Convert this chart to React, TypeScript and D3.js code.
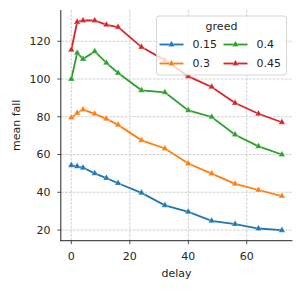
import * as d3 from 'd3'
import { useMemo } from 'react'

const WIDTH = 302 as const
const HEIGHT = 292 as const

const DELAYS = [0, 2, 4, 8, 12, 16, 24, 32, 40, 48, 56, 64, 72]
const GREEDS = ['0.15', '0.3', '0.4', '0.45']
const COLORS = ['#1f77b4', '#ff7f0e', '#2ca02c', '#d62728']

const FALL_015 = [54.3, 53.7, 53, 50, 47.5, 44.8, 39.7, 33.1, 29.6, 24.9, 23.1, 20.8, 19.9]
const FALL_03 = [79.5, 82, 83.8, 81.5, 78.9, 75.7, 67.5, 63.2, 55.2, 49.9, 44.5, 41.2, 38]
const FALL_04 = [100, 113.8, 110.6, 114.6, 108.5, 103.2, 94, 92.9, 83.4, 79.9, 70.5, 64.3, 60]
const FALL_045 = [115.5, 130.2, 131, 131, 128.7, 127.5, 116.9, 110, 101.4, 95.8, 87.3, 81.6, 77.1]

const X_TICKS = [0, 20, 40, 60]
const Y_TICKS = [20, 40, 60, 80, 100, 120]

const FONT = 'DejaVu Sans, sans-serif'
const FS = 11

export default function App() {
  const chart = useMemo(() => {
    const left = 60.8
    const right = 292.4
    const top = 10
    const bottom = 240.7

    const series = [FALL_015, FALL_03, FALL_04, FALL_045]
    const allValues = series.flat()
    const yMin = d3.min(allValues) ?? 0
    const yMax = d3.max(allValues) ?? 1
    const yPad = (yMax - yMin) * 0.05
    const xPad = ((d3.max(DELAYS) ?? 1) - (d3.min(DELAYS) ?? 0)) * 0.05

    const x = d3
      .scaleLinear()
      .domain([(d3.min(DELAYS) ?? 0) - xPad, (d3.max(DELAYS) ?? 1) + xPad])
      .range([left, right])
    const y = d3
      .scaleLinear()
      .domain([yMin - yPad, yMax + yPad])
      .range([bottom, top])

    const line = d3
      .line<number>()
      .x((_, i) => x(DELAYS[i]))
      .y((d) => y(d))

    const tri = d3.symbol(d3.symbolTriangle, 19)()

    return { left, right, top, bottom, x, y, series, line, tri }
  }, [])

  const { left, right, top, bottom, x, y, series, line, tri } = chart

  // legend box
  const lg = { x: 156.5, y: 16, w: 130, h: 59 }
  const legendItems = GREEDS.map((g, i) => {
    const col = i < 2 ? 0 : 1
    const row = i % 2
    return { g, color: COLORS[i], hx: lg.x + 3 + col * 64, ly: lg.y + 28.5 + row * 19 }
  })

  return (
    <svg
      width={WIDTH}
      height={HEIGHT}
      style={{ position: 'absolute', left: 0, top: 0, background: '#fff' }}
      fontFamily={FONT}
    >
      {/* grid */}
      <g stroke="#b0b0b0" strokeWidth={0.8} strokeDasharray="2.8,1.2" opacity={0.7}>
        {X_TICKS.map((t) => (
          <line key={`gx${t}`} x1={x(t)} x2={x(t)} y1={top} y2={bottom} />
        ))}
        {Y_TICKS.map((t) => (
          <line key={`gy${t}`} x1={left} x2={right} y1={y(t)} y2={y(t)} />
        ))}
      </g>

      {/* series */}
      {series.map((vals, i) => (
        <g key={`s${i}`}>
          <path d={line(vals) ?? undefined} fill="none" stroke={COLORS[i]} strokeWidth={1.8} />
          {vals.map((v, j) => (
            <path
              key={j}
              d={tri ?? undefined}
              transform={`translate(${x(DELAYS[j])},${y(v)})`}
              fill={COLORS[i]}
              stroke="#fff"
              strokeWidth={0.5}
              strokeOpacity={0.6}
            />
          ))}
        </g>
      ))}

      {/* spines */}
      <g stroke="#262626" strokeWidth={1}>
        <line x1={left} x2={left} y1={top} y2={bottom + 0.5} />
        <line x1={left - 0.5} x2={right} y1={bottom} y2={bottom} />
      </g>

      {/* x axis */}
      <g fontSize={FS} fill="#262626" textAnchor="middle">
        {X_TICKS.map((t) => (
          <g key={`xt${t}`}>
            <line x1={x(t)} x2={x(t)} y1={bottom} y2={bottom + 3.5} stroke="#262626" strokeWidth={0.8} />
            <text x={x(t)} y={bottom + 19.5}>{t}</text>
          </g>
        ))}
        <text x={(left + right) / 2} y={277}>delay</text>
      </g>

      {/* y axis */}
      <g fontSize={FS} fill="#262626" textAnchor="end">
        {Y_TICKS.map((t) => (
          <g key={`yt${t}`}>
            <line x1={left - 3.5} x2={left} y1={y(t)} y2={y(t)} stroke="#262626" strokeWidth={0.8} />
            <text x={50.5} y={y(t)} dy="0.36em">{t}</text>
          </g>
        ))}
        <text
          transform={`translate(19.5,${(top + bottom) / 2}) rotate(-90)`}
          textAnchor="middle"
        >
          mean fall
        </text>
      </g>

      {/* legend */}
      <g>
        <rect
          x={lg.x}
          y={lg.y}
          width={lg.w}
          height={lg.h}
          rx={2.5}
          fill="#fff"
          fillOpacity={0.8}
          stroke="#cccccc"
          strokeWidth={0.8}
        />
        <text x={lg.x + lg.w / 2} y={lg.y + 13.5} textAnchor="middle" fontSize={FS} fill="#262626">
          greed
        </text>
        {legendItems.map((d) => (
          <g key={d.g}>
            <line x1={d.hx} x2={d.hx + 24} y1={d.ly} y2={d.ly} stroke={d.color} strokeWidth={1.8} />
            <path d={tri ?? undefined} transform={`translate(${d.hx + 12},${d.ly})`} fill={d.color} stroke="#fff" strokeWidth={0.5} strokeOpacity={0.6} />
            <text x={d.hx + 33} y={d.ly} dy="0.36em" fontSize={FS} fill="#262626">
              {d.g}
            </text>
          </g>
        ))}
      </g>
    </svg>
  )
}
